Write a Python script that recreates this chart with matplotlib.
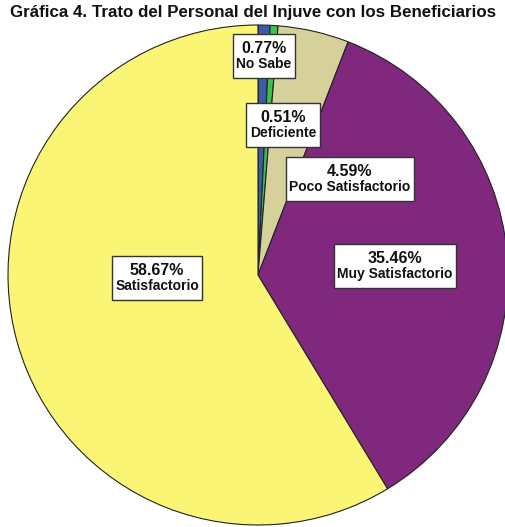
import matplotlib
matplotlib.use("Agg")
import matplotlib.pyplot as plt
from matplotlib.offsetbox import TextArea, VPacker, AnnotationBbox, DrawingArea

plt.rcParams['font.family'] = ['Liberation Sans', 'DejaVu Sans']

categories = ["No Sabe", "Deficiente", "Poco Satisfactorio", "Muy Satisfactorio", "Satisfactorio"]
values = [0.77, 0.51, 4.59, 35.46, 58.67]
colors = ["#3D5BA9", "#3CBF4B", "#D6D09B", "#7F287E", "#FAF575"]
# label box centres, in pixels from the top-left of the picture
label_pos = [(264, 56), (283, 125), (350, 179), (395, 266), (157, 278)]

W, H = 506, 527
fig = plt.figure(figsize=(W / 100, H / 100), dpi=100)
ax = fig.add_axes([0, 0, 1, 1])

ax.pie(values, colors=colors, startangle=90, counterclock=False,
       center=(258, H - 275), radius=250,
       wedgeprops=dict(edgecolor="#222222", linewidth=0.8))
ax.set_xlim(0, W)
ax.set_ylim(0, H)
ax.set_aspect("equal")
ax.axis("off")

for cat, v, (px, py) in zip(categories, values, label_pos):
    top = TextArea(f"{v:.2f}%", textprops=dict(fontsize=11.5, fontweight="bold", color="#111111"))
    bot = TextArea(cat, textprops=dict(fontsize=10, fontweight="bold", color="#111111"))
    # small spacers so the box is a bit taller than the text
    box = VPacker(children=[DrawingArea(1, 1.5), top, bot, DrawingArea(1, 1.5)],
                  align="center", pad=0, sep=0.8)
    ab = AnnotationBbox(box, (px, H - py), frameon=True, pad=0.25,
                        bboxprops=dict(facecolor="white", edgecolor="#333333", linewidth=1))
    ax.add_artist(ab)

fig.text(0.5, 1 - 12 / H, "Gráfica 4. Trato del Personal del Injuve con los Beneficiarios",
         ha="center", va="center", fontsize=12.2, fontweight="bold", color="#111111")

fig.savefig("out.png", dpi=100)
